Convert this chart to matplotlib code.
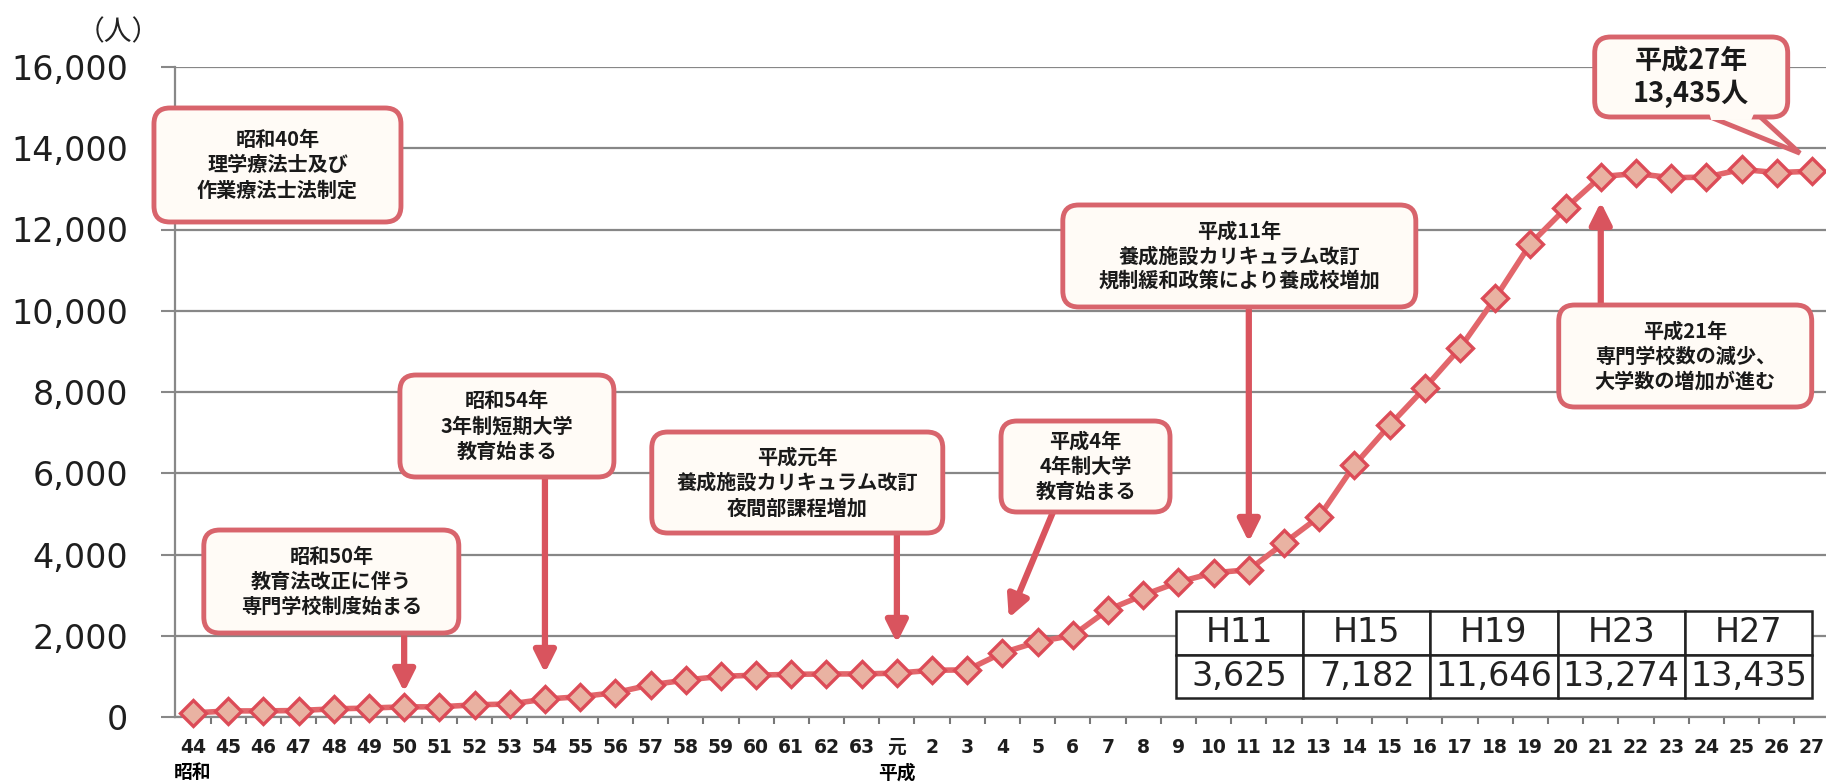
import numpy as np
import matplotlib.pyplot as plt
from matplotlib.patches import FancyBboxPatch, FancyArrowPatch, Polygon
from matplotlib.transforms import IdentityTransform

plt.rcParams['font.family'] = ['DejaVu Sans', 'Noto Sans CJK JP']

# data: students per year (昭和44 .. 平成27)
years = ['44', '45', '46', '47', '48', '49', '50', '51', '52', '53',
         '54', '55', '56', '57', '58', '59', '60', '61', '62', '63',
         '元', '2', '3', '4', '5', '6', '7', '8', '9', '10',
         '11', '12', '13', '14', '15', '16', '17', '18', '19', '20',
         '21', '22', '23', '24', '25', '26', '27']
students = [100, 150, 150, 160, 200, 220, 250, 250, 300, 320,
            440, 500, 600, 790, 910, 1000, 1030, 1050, 1060, 1060,
            1080, 1150, 1160, 1580, 1850, 2010, 2640, 3000, 3320, 3550,
            3625, 4280, 4930, 6200, 7182, 8100, 9080, 10310, 11646, 12520,
            13300, 13380, 13274, 13290, 13480, 13400, 13435]
table_years = ['H11', 'H15', 'H19', 'H23', 'H27']
table_values = ['3,625', '7,182', '11,646', '13,274', '13,435']
y_ticks = [0, 2000, 4000, 6000, 8000, 10000, 12000, 14000, 16000]

RED = '#d9545e'
EDGE = '#d8646c'
FACE = '#fffbf6'

fig = plt.figure(figsize=(18.26, 7.84), dpi=100)
ax = fig.add_axes([175.4 / 1826, 1 - 717 / 784, 1650.6 / 1826, 650 / 784])

x = np.arange(len(years))
ax.plot(x, students, color='#e2666b', lw=4, marker='D', ms=13.5,
        mfc='#e9b2a2', mec='#dc4b57', mew=2.4, zorder=4, clip_on=False)

ax.set_xlim(-0.5, 46.4)
ax.set_ylim(0, 16000)
ax.set_yticks(y_ticks)
ax.set_yticklabels([f'{v:,}' for v in y_ticks], fontsize=24, color='#1e1e1e')
ax.set_xticks(x)
ax.set_xticklabels(years, fontsize=13.5, fontweight='bold', color='#1e1e1e')
ax.set_xticks(x[:-1] + 0.5, minor=True)
ax.tick_params(axis='x', which='major', length=0, pad=15)
ax.tick_params(axis='x', which='minor', length=5, width=1.5, color='#777777')
ax.tick_params(axis='y', length=10, width=1.5, color='#888888', pad=24)
ax.grid(axis='y', color='#878787', lw=1.6)
ax.set_axisbelow(True)
for s in ['top', 'right']:
    ax.spines[s].set_visible(False)
for s in ['left', 'bottom']:
    ax.spines[s].set_color('#888888')
    ax.spines[s].set_linewidth(1.6)

tr = ax.get_xaxis_transform()
ax.text(0, -0.086, '昭和', transform=tr, ha='center', va='center',
        fontsize=13.5, fontweight='bold', family=['Noto Sans CJK JP'])
ax.text(20, -0.086, '平成', transform=tr, ha='center', va='center',
        fontsize=13.5, fontweight='bold', family=['Noto Sans CJK JP'])
fig.text(118 / 1826, 1 - 32 / 784, '（人）', ha='center', va='center',
         fontsize=20, family=['Noto Sans CJK JP'], color='#222222')

# annotation boxes: text, centre (category, value), size in px, font size
notes = [
    ('昭和40年\n理学療法士及び\n作業療法士法制定', (2.40, 13588), (247, 114), 14.5),
    ('昭和50年\n教育法改正に伴う\n専門学校制度始まる', (3.93, 3335), (255, 103), 14.5),
    ('昭和54年\n3年制短期大学\n教育始まる', (8.92, 7163), (214, 102), 14.5),
    ('平成元年\n養成施設カリキュラム改訂\n夜間部課程増加', (17.17, 5772), (291, 101), 14.5),
    ('平成4年\n4年制大学\n教育始まる', (25.36, 6166), (169, 91), 14.5),
    ('平成11年\n養成施設カリキュラム改訂\n規制緩和政策により養成校増加', (29.73, 11348), (353, 102), 14.5),
    ('平成21年\n専門学校数の減少、\n大学数の増加が進む', (42.4, 8886), (253, 102), 14.5),
    ('平成27年\n13,435人', (42.57, 15754), (193, 80), 19.5),
]
arrows = [
    ((6, 2068), (6, 615)),
    ((10, 5908), (10, 1083)),
    ((20, 4529), (20, 1822)),
    ((24.46, 5095), (23.18, 2437)),
    ((30, 10092), (30, 4308)),
    ((40, 10142), (40, 12677)),
]

for start, end in arrows:
    ar = FancyArrowPatch(start, end, arrowstyle='-|>,head_length=1.3,head_width=0.65',
                         mutation_scale=10, color=RED, lw=4.5,
                         shrinkA=0, shrinkB=0, zorder=5, clip_on=False)
    ax.add_patch(ar)

ax.figure.canvas.draw()
ident = IdentityTransform()
for i, (txt, (cx, cy), (w, h), fs) in enumerate(notes):
    px, py = ax.transData.transform((cx, cy))
    if i == len(notes) - 1:
        # callout tail pointing at the last point
        tx, ty = ax.transData.transform((46, 13435))
        base = py - h / 2
        tail = Polygon([(px + 14, base + 2), (tx - 12, ty + 18), (px + 67, base + 2)],
                       closed=True, fc=FACE, ec=EDGE, lw=3.5, transform=ident,
                       zorder=6, clip_on=False)
        ax.add_patch(tail)
    box = FancyBboxPatch((px - w / 2, py - h / 2), w, h,
                         boxstyle='round,pad=0,rounding_size=16',
                         fc=FACE, ec=EDGE, lw=3.5, transform=ident,
                         zorder=7, clip_on=False)
    ax.add_patch(box)
    if i == len(notes) - 1:
        cover = Polygon([(px + 18, base + 4), (px + 63, base + 4), (px + 60, base - 3),
                         (px + 20, base - 3)], closed=True, fc=FACE, ec='none',
                        transform=ident, zorder=8, clip_on=False)
        ax.add_patch(cover)
    ax.text(px, py, txt, transform=ident, ha='center', va='center',
            fontsize=fs, fontweight='bold', linespacing=1.25,
            family=['Noto Sans CJK JP'], color='#1a1a1a', zorder=9)

tbl = ax.table(cellText=[table_years, table_values], cellLoc='center',
               bbox=[0.6062, 0.0292, 0.3853, 0.1339])
tbl.auto_set_font_size(False)
tbl.set_fontsize(24)
tbl.set_zorder(10)
for cell in tbl.get_celld().values():
    cell.set_linewidth(1.8)
    cell.set_edgecolor('#222222')
    cell.get_text().set_color('#222222')

fig.savefig('out.png', dpi=100)
